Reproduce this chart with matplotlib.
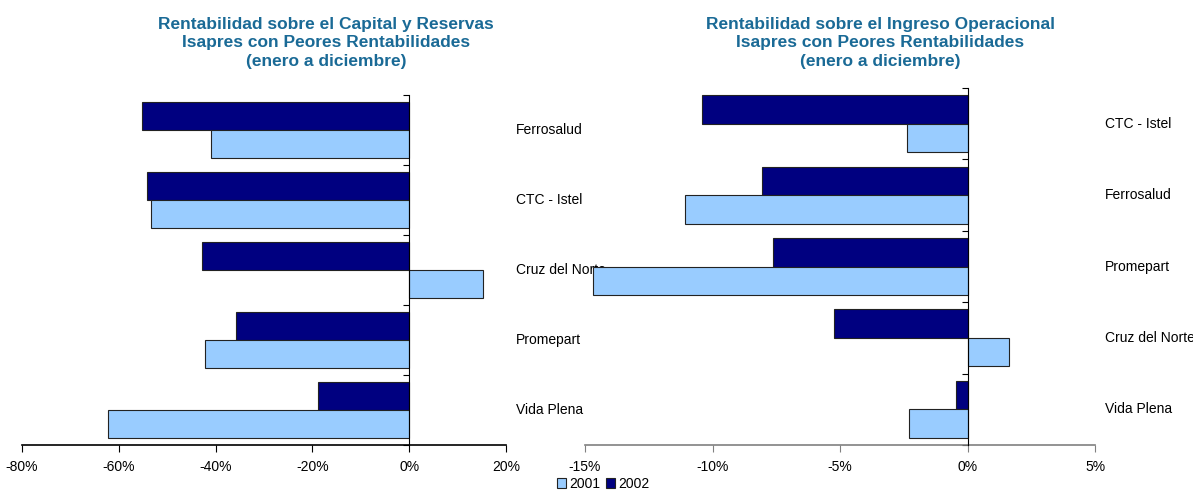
import matplotlib
matplotlib.use('Agg')
import matplotlib.pyplot as plt
from matplotlib.patches import Patch
from matplotlib.ticker import FuncFormatter
import numpy as np

plt.rcParams['font.family'] = ['Liberation Sans', 'DejaVu Sans']

LIGHT = '#99CCFF'
DARK = '#000080'
TITLE_COLOR = '#1A6A96'

# Rentabilidad sobre el Capital y Reservas (%)
cap_names = ['Ferrosalud', 'CTC - Istel', 'Cruz del Norte', 'Promepart', 'Vida Plena']
cap_2001 = [-40.9, -53.4, 15.2, -42.1, -62.2]
cap_2002 = [-55.2, -54.2, -42.8, -35.8, -18.8]

# Rentabilidad sobre el Ingreso Operacional (%)
ing_names = ['CTC - Istel', 'Ferrosalud', 'Promepart', 'Cruz del Norte', 'Vida Plena']
ing_2001 = [-2.38, -11.09, -14.7, 1.62, -2.28]
ing_2002 = [-10.43, -8.05, -7.62, -5.25, -0.44]

titles = [
    'Rentabilidad sobre el Capital y Reservas\nIsapres con Peores Rentabilidades\n(enero a diciembre)',
    'Rentabilidad sobre el Ingreso Operacional\nIsapres con Peores Rentabilidades\n(enero a diciembre)',
]

W, H = 1193, 490
fig = plt.figure(figsize=(W / 100, H / 100), dpi=100)


def px_axes(x0, x1, y0, y1):
    return fig.add_axes([x0 / W, (H - y1) / H, (x1 - x0) / W, (y1 - y0) / H])


def draw(ax, names, v2001, v2002, xlim, step, bottom_color):
    y = np.arange(len(names))
    ax.barh(y - 0.2, v2002, height=0.4, color=DARK, edgecolor='#222222', linewidth=0.8)
    ax.barh(y + 0.2, v2001, height=0.4, color=LIGHT, edgecolor='#222222', linewidth=0.8)
    ax.set_xlim(*xlim)
    ax.set_ylim(len(names) - 0.5, -0.5)
    ax.patch.set_alpha(0)

    ax.spines['top'].set_visible(False)
    ax.spines['right'].set_visible(False)
    ax.spines['left'].set_position(('data', 0))
    ax.spines['left'].set_color('black')
    ax.spines['left'].set_zorder(3)
    ax.spines['bottom'].set_color(bottom_color)
    ax.spines['bottom'].set_linewidth(1.2)

    ax.set_yticks(np.arange(len(names) + 1) - 0.5)
    ax.set_yticklabels([])
    ax.tick_params(axis='y', direction='out', length=4, color='black')
    ax.set_xticks(np.arange(xlim[0], xlim[1] + step / 2, step))
    ax.xaxis.set_major_formatter(FuncFormatter(lambda v, p: f'{v:.0f}%'))
    ax.tick_params(axis='x', direction='out', length=5, color=bottom_color,
                   labelsize=10, pad=6)

    for i, n in enumerate(names):
        ax.text(1.02, i, n, transform=ax.get_yaxis_transform(), fontsize=10,
                va='center', ha='left', clip_on=False, zorder=0)


ax1 = px_axes(22, 506, 95, 445)
draw(ax1, cap_names, cap_2001, cap_2002, (-80, 20), 20, 'black')
ax2 = px_axes(585, 1095, 88, 445)
draw(ax2, ing_names, ing_2001, ing_2002, (-15, 5), 5, '#808080')
# the right chart's bars cover the end of the left chart's long label
ax1.set_zorder(0)
ax2.set_zorder(1)

for cx, t in zip([326, 880], titles):
    fig.text(cx / W, 1 - 43 / H, t, ha='center', va='center', fontsize=12.5,
             fontweight='bold', color=TITLE_COLOR, linespacing=1.3)

handles = [Patch(facecolor=LIGHT, edgecolor='#222222', linewidth=0.8, label='2001'),
           Patch(facecolor=DARK, edgecolor='#222222', linewidth=0.8, label='2002')]
fig.legend(handles=handles, loc='center', bbox_to_anchor=(603 / W, 1 - 484 / H),
           ncol=2, frameon=False, fontsize=10, handlelength=0.7, handleheight=0.7,
           handletextpad=0.2, columnspacing=0.4, borderpad=0)

fig.savefig('out.png', dpi=100)
